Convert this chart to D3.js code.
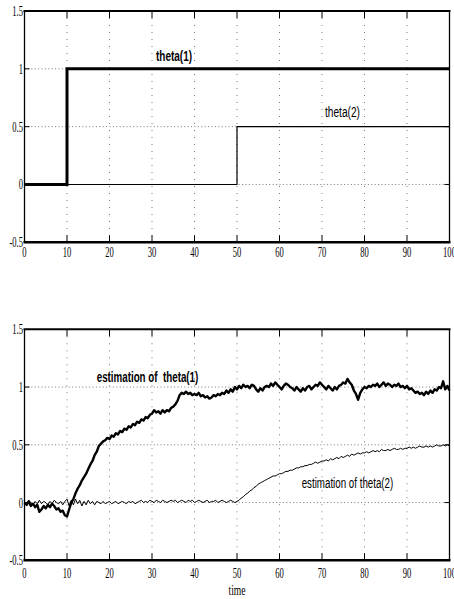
<!DOCTYPE html>
<html lang="en">
<head>
<meta charset="UTF-8">
<title>theta and its estimation</title>
<script src="https://cdn.jsdelivr.net/npm/d3@7"></script>
<style>
    body {margin: 0; background: #fff;}
    svg {display: block;}
    text {white-space: pre;}
</style>
</head>
<body>
<svg id="chart"></svg>
<script>
// DATA
// true parameters (step signals): breakpoints in time and values
const thetaTime = [0, 10, 50, 100];
const theta1 = [0, 1, 1, 1];
const theta2 = [0, 0, 0.5, 0.5];

// estimates, sampled every 0.5 time unit from t = 0 to t = 100
const estStep = 0.5;
const theta1Est = [
    0.00,-0.02,0.01,-0.03,-0.01,-0.04,-0.02,-0.08,-0.06,-0.03,
    -0.05,-0.02,-0.04,-0.01,-0.03,-0.06,-0.05,-0.08,-0.07,-0.11,
    -0.12,-0.06,0.00,0.03,0.08,0.12,0.15,0.19,0.22,0.25,
    0.29,0.33,0.36,0.41,0.44,0.49,0.51,0.53,0.54,0.56,
    0.55,0.58,0.57,0.60,0.59,0.62,0.61,0.64,0.63,0.66,
    0.65,0.68,0.67,0.70,0.69,0.72,0.71,0.74,0.73,0.76,
    0.77,0.80,0.78,0.79,0.77,0.80,0.78,0.80,0.79,0.82,
    0.83,0.85,0.88,0.93,0.95,0.94,0.96,0.94,0.95,0.93,
    0.94,0.93,0.95,0.92,0.93,0.91,0.92,0.90,0.91,0.93,
    0.92,0.94,0.93,0.95,0.94,0.97,0.95,0.98,0.96,1.00,
    0.98,1.01,0.99,1.02,1.00,1.01,0.99,1.02,1.01,0.98,
    0.96,0.99,0.97,1.00,1.01,1.00,1.03,1.01,1.04,1.02,
    1.00,0.98,1.01,1.03,1.02,1.00,0.99,0.97,1.00,0.98,
    0.96,0.99,0.97,1.00,1.01,0.98,1.00,1.02,1.01,1.04,
    1.02,1.00,0.98,1.01,0.99,0.97,1.00,0.98,1.01,1.02,
    1.04,1.03,1.07,1.04,1.02,0.97,0.94,0.89,0.95,0.98,
    1.00,0.99,1.01,1.00,1.02,1.01,1.03,1.00,1.02,1.04,
    1.01,1.03,1.02,1.00,1.02,1.01,1.03,1.00,1.01,0.99,
    1.01,0.98,0.99,0.97,0.95,0.96,0.94,0.95,0.93,0.96,
    0.94,0.97,0.95,0.98,0.97,1.00,0.99,1.05,0.98,1.01,
    0.97
];
const theta2Est = [
    0.01,-0.01,0.02,0.00,-0.02,0.01,-0.01,0.02,-0.01,0.01,
    0.00,-0.02,0.01,-0.01,0.02,0.00,-0.01,0.01,-0.02,0.01,
    0.03,-0.03,0.02,-0.02,0.03,-0.01,0.02,-0.03,0.01,-0.02,
    0.02,-0.01,0.01,-0.02,0.01,0.00,-0.01,0.01,-0.01,0.00,
    0.01,-0.01,0.00,0.01,-0.01,0.00,0.01,0.00,-0.01,0.01,
    0.00,0.01,-0.01,0.00,0.01,0.02,0.00,0.01,0.00,0.02,
    0.01,0.00,0.02,0.01,0.00,0.02,0.01,0.00,0.01,0.02,
    0.01,0.02,0.00,0.01,0.02,0.01,0.00,0.02,0.01,0.02,
    0.00,0.01,0.02,0.01,0.00,0.01,0.02,0.00,0.01,0.01,
    0.02,0.00,0.01,0.02,0.01,0.00,0.01,0.02,0.01,0.00,
    0.01,0.02,0.04,0.05,0.07,0.08,0.10,0.11,0.13,0.14,
    0.16,0.17,0.18,0.19,0.20,0.21,0.22,0.23,0.23,0.24,
    0.25,0.25,0.26,0.27,0.27,0.28,0.28,0.29,0.30,0.30,
    0.31,0.31,0.32,0.32,0.33,0.33,0.34,0.35,0.34,0.35,
    0.36,0.36,0.37,0.36,0.38,0.37,0.38,0.39,0.38,0.40,
    0.39,0.40,0.41,0.40,0.42,0.41,0.42,0.43,0.42,0.43,
    0.43,0.44,0.43,0.44,0.45,0.44,0.45,0.44,0.46,0.45,
    0.45,0.46,0.45,0.46,0.47,0.46,0.46,0.47,0.46,0.47,
    0.47,0.48,0.47,0.48,0.47,0.48,0.49,0.48,0.48,0.49,
    0.48,0.49,0.48,0.49,0.50,0.49,0.49,0.50,0.49,0.50,
    0.49
];

const xTicks = [0, 10, 20, 30, 40, 50, 60, 70, 80, 90, 100];
const yTicks = [-0.5, 0, 0.5, 1, 1.5];
const yTickLabels = ["-0.5", "0", "0.5", "1", "1.5"];
const xLabel = "time";

// Layout
const W = 454, H = 599;
const left = 24.5, right = 449.5;
const panels = [
    {top: 11, bottom: 242.3, labelY: 257},
    {top: 329.3, bottom: 560.3, labelY: 578}
];

const svg = d3.select("#chart").attr("width", W).attr("height", H);
const x = d3.scaleLinear().domain([0, 100]).range([left, right]);

function drawFrame(p) {
    const y = d3.scaleLinear().domain([-0.5, 1.5]).range([p.bottom, p.top]);
    const g = svg.append("g");

    // dotted grid
    g.selectAll(".vgrid").data(xTicks.slice(1, -1)).join("line")
        .attr("x1", d => x(d)).attr("x2", d => x(d))
        .attr("y1", p.top).attr("y2", p.bottom)
        .attr("stroke", "#555").attr("stroke-width", 0.8).attr("stroke-dasharray", "1,6");
    g.selectAll(".hgrid").data(yTicks.slice(1, -1)).join("line")
        .attr("x1", left).attr("x2", right)
        .attr("y1", d => y(d)).attr("y2", d => y(d))
        .attr("stroke", "#555").attr("stroke-width", 0.8).attr("stroke-dasharray", "1,2.4");

    // inward ticks
    g.selectAll(".xt").data(xTicks.slice(1, -1)).join("path")
        .attr("d", d => `M${x(d)},${p.top}v7M${x(d)},${p.bottom}v-7`)
        .attr("stroke", "#000").attr("stroke-width", 1);
    g.selectAll(".yt").data(yTicks.slice(1, -1)).join("path")
        .attr("d", d => `M${left},${y(d)}h5M${right},${y(d)}h-5`)
        .attr("stroke", "#000").attr("stroke-width", 1);

    // tick labels
    g.selectAll(".xl").data(xTicks).join("text")
        .attr("transform", d => `translate(${x(d)},${p.labelY}) scale(0.57,1)`)
        .attr("text-anchor", "middle")
        .attr("font-family", "Liberation Serif").attr("font-size", 15)
        .text(d => d);
    g.selectAll(".yl").data(yTicks).join("text")
        .attr("transform", d => `translate(23,${y(d) + 5}) scale(0.57,1)`)
        .attr("text-anchor", "end")
        .attr("font-family", "Liberation Serif").attr("font-size", 15)
        .text((d, i) => yTickLabels[i]);

    return {g, y};
}

function drawBox(p) {
    const g = svg.append("g");
    g.append("line").attr("x1", left - 1).attr("x2", right + 1).attr("y1", p.top).attr("y2", p.top)
        .attr("stroke", "#000").attr("stroke-width", 2);
    g.append("line").attr("x1", left - 1).attr("x2", right + 1).attr("y1", p.bottom).attr("y2", p.bottom)
        .attr("stroke", "#000").attr("stroke-width", 2.4);
    g.append("line").attr("x1", left).attr("x2", left).attr("y1", p.top).attr("y2", p.bottom)
        .attr("stroke", "#000").attr("stroke-width", 1.3);
    g.append("line").attr("x1", right).attr("x2", right).attr("y1", p.top).attr("y2", p.bottom)
        .attr("stroke", "#000").attr("stroke-width", 1.3);
}

function label(txt, px, py, len, bold, family) {
    svg.append("text")
        .attr("x", px).attr("y", py)
        .attr("font-family", family || "Liberation Sans")
        .attr("font-weight", bold ? "bold" : "normal")
        .attr("font-size", 14)
        .attr("textLength", len).attr("lengthAdjust", "spacingAndGlyphs")
        .text(txt);
}

// 1) top panel: true parameters
const topPanel = drawFrame(panels[0]);
const stepLine = d3.line().x((d, i) => x(thetaTime[i])).y(d => topPanel.y(d)).curve(d3.curveStepAfter);
topPanel.g.append("path").attr("d", stepLine(theta2))
    .attr("fill", "none").attr("stroke", "#000").attr("stroke-width", 1.2);
topPanel.g.append("path").attr("d", stepLine(theta1))
    .attr("fill", "none").attr("stroke", "#000").attr("stroke-width", 3);
drawBox(panels[0]);
label("theta(1)", 156, 61, 36, true);
label("theta(2)", 325, 116.5, 35, false);

// 2) bottom panel: estimates
const botPanel = drawFrame(panels[1]);
const estLine = d3.line().x((d, i) => x(i * estStep)).y(d => botPanel.y(d));
botPanel.g.append("path").attr("d", estLine(theta2Est))
    .attr("fill", "none").attr("stroke", "#000").attr("stroke-width", 1);
botPanel.g.append("path").attr("d", estLine(theta1Est))
    .attr("fill", "none").attr("stroke", "#000").attr("stroke-width", 2.4)
    .attr("stroke-linejoin", "round");
drawBox(panels[1]);
label("estimation of  theta(1)", 96.7, 382, 101.6, true);
label("estimation of theta(2)", 301.7, 487.5, 91.6, false);

svg.append("text")
    .attr("transform", `translate(${x(50)},595) scale(0.64,1)`)
    .attr("text-anchor", "middle")
    .attr("font-family", "Liberation Serif").attr("font-size", 15)
    .text(xLabel);
</script>
</body>
</html>
